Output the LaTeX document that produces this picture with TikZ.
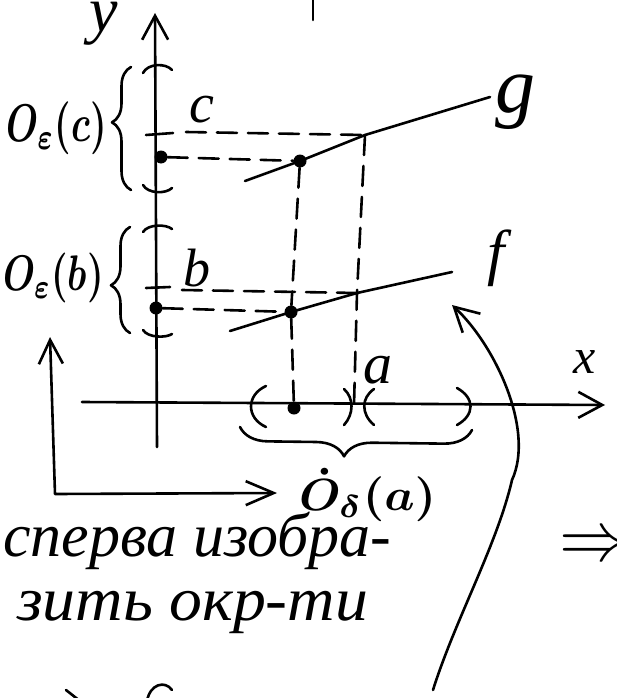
\documentclass[tikz,border=0pt]{standalone}
\usepackage{fontspec}
\setmainfont{Liberation Serif}
\usetikzlibrary{arrows.meta,decorations.pathreplacing}
\begin{document}
\begin{tikzpicture}[x=1pt,y=-1pt,
  pen/.style={line width=2.6pt,line cap=round,line join=round},
  dsh/.style={pen,dash pattern=on 20pt off 11pt},
  tip/.style={-{Straight Barb[length=24pt,width=26pt]}},
  tipboth/.style={{Straight Barb[length=24pt,width=24pt]}-{Straight Barb[length=28pt,width=24pt]}},
  dot/.style={circle,fill,inner sep=0pt,minimum size=13pt},
  lbl/.style={inner sep=0pt},
  big/.style={font=\fontsize{62}{64}\selectfont\itshape}]
\fill[white] (0,0) rectangle (617,698);
\useasboundingbox (0,0) rectangle (617,698);

% axes
\coordinate (ybot) at (157,447);
\coordinate (ytop) at (155,13);
\coordinate (xl) at (82,402);
\coordinate (xr) at (605,405);
\draw[pen,tip] (ybot) -- (ytop);
\draw[pen,tip] (xl) -- (xr);
\node[lbl,font=\fontsize{64}{64}\selectfont\itshape] (ylab) at (104,24) {y};
\node[lbl,font=\fontsize{50}{50}\selectfont\itshape] (xlab) at (585,362) {x};

% neighbourhood marks on the y axis
\draw[pen] (143,73) .. controls (148,63) and (166,63) .. (172,70);
\draw[pen] (143,185) .. controls (148,194) and (166,194) .. (172,188);
\draw[pen] (146,135) -- (173,133);
\draw[pen] (143,232) .. controls (148,224) and (166,224) .. (172,229);
\draw[pen] (143,330) .. controls (148,338) and (166,338) .. (172,334);
\draw[pen] (146,288) -- (170,287);

% braces and their labels
\draw[pen,decorate,decoration={brace,amplitude=19pt,aspect=0.55}] (131,190) -- (131,67);
\draw[pen,decorate,decoration={brace,amplitude=19pt,aspect=0.45}] (130,333) -- (130,227);
\node[lbl,anchor=east] (Oc) at (107,128) {\scalebox{3.7}[5.3]{\boldmath$O_{\varepsilon}(c)$}};
\node[lbl,anchor=east] (Ob) at (104,278) {\scalebox{3.7}[5.0]{\boldmath$O_{\varepsilon}(b)$}};

% points
\node[dot] (yc) at (161,157) {};
\node[dot] (yb) at (156,308) {};
\node[dot] (gp) at (300,161) {};
\node[dot] (fp) at (291,312) {};
\node[dot] (xp) at (294,408) {};
\coordinate (ga) at (365,135);
\coordinate (fa) at (357,293);
\coordinate (xa) at (354,405);
\coordinate (cl) at (186,132);
\coordinate (bl) at (182,290);

% graphs
\coordinate (g0) at (245,181);
\coordinate (g1) at (490,97);
\coordinate (f0) at (230,331);
\coordinate (f1) at (452,272);
\draw[pen] (g0) -- (gp.center) -- (ga) -- (g1);
\draw[pen] (f0) -- (fp.center) -- (fa) -- (f1);
\node[lbl,font=\fontsize{80}{80}\selectfont\itshape] (glab) at (515,102) {g};
\node[lbl,font=\fontsize{62}{62}\selectfont\itshape] (flab) at (496,258) {f};

% dashed projections
\draw[dsh] (cl) -- (ga);
\draw[dsh] (yc) -- (gp);
\draw[dsh] (gp) -- (fp) -- (xp);
\draw[dsh] (ga) -- (fa) -- (xa);
\draw[dsh] (bl) -- (fa);
\draw[dsh] (yb) -- (fp);
\node[lbl,font=\fontsize{56}{56}\selectfont\itshape] (clab) at (202,110) {c};
\node[lbl,font=\fontsize{54}{54}\selectfont\itshape] (blab) at (197,268) {b};

% marks on the x axis
\draw[pen] (266,386) .. controls (246,395) and (246,418) .. (266,427);
\draw[pen] (457,388) .. controls (475,398) and (475,415) .. (457,425);
\draw[pen] (344,389) .. controls (354,398) and (354,414) .. (344,425);
\draw[pen] (374,389) .. controls (361,398) and (361,414) .. (374,425);
\node[lbl,font=\fontsize{58}{58}\selectfont\itshape] (alab) at (378,370) {a};
\draw[pen,decorate,decoration={brace,amplitude=28pt,aspect=0.55}] (472,430) -- (240,427);

% neighbourhood of a
\node[lbl,anchor=west] (Oa) at (299,495) {\scalebox{4.8}[4.5]{\boldmath$\dot{O}_{\delta}(a)$}};
\coordinate (Lup) at (50,337);
\coordinate (Lc) at (55,494);
\coordinate (Lright) at (277,493);
\draw[pen,tipboth] (Lup) -- (Lc) -- (Lright);

% text
\node[lbl,big,anchor=base west] (t1) at (3,556) {сперва изобра-};
\node[lbl,big,anchor=base west] (t2) at (17,620) {\scalebox{1.06}[1]{зить окр-ти}};
\node[lbl,anchor=west] (imp) at (559,548) {\scalebox{7}{$\Rightarrow$}};

% long curved arrow
\coordinate (cs) at (433,690);
\coordinate (ce) at (452,305);
\draw[pen,tip] (cs) .. controls (455,620) and (497,545) .. (512,480) .. controls (535,430) and (495,345) .. (ce);

% cut-off fragments at the edges
\draw[pen] (313,-3) -- (313,20);
\draw[pen] (66,690) -- (80,701);
\draw[pen] (147,701) .. controls (150,684) and (165,680) .. (172,690);
\end{tikzpicture}
\end{document}
